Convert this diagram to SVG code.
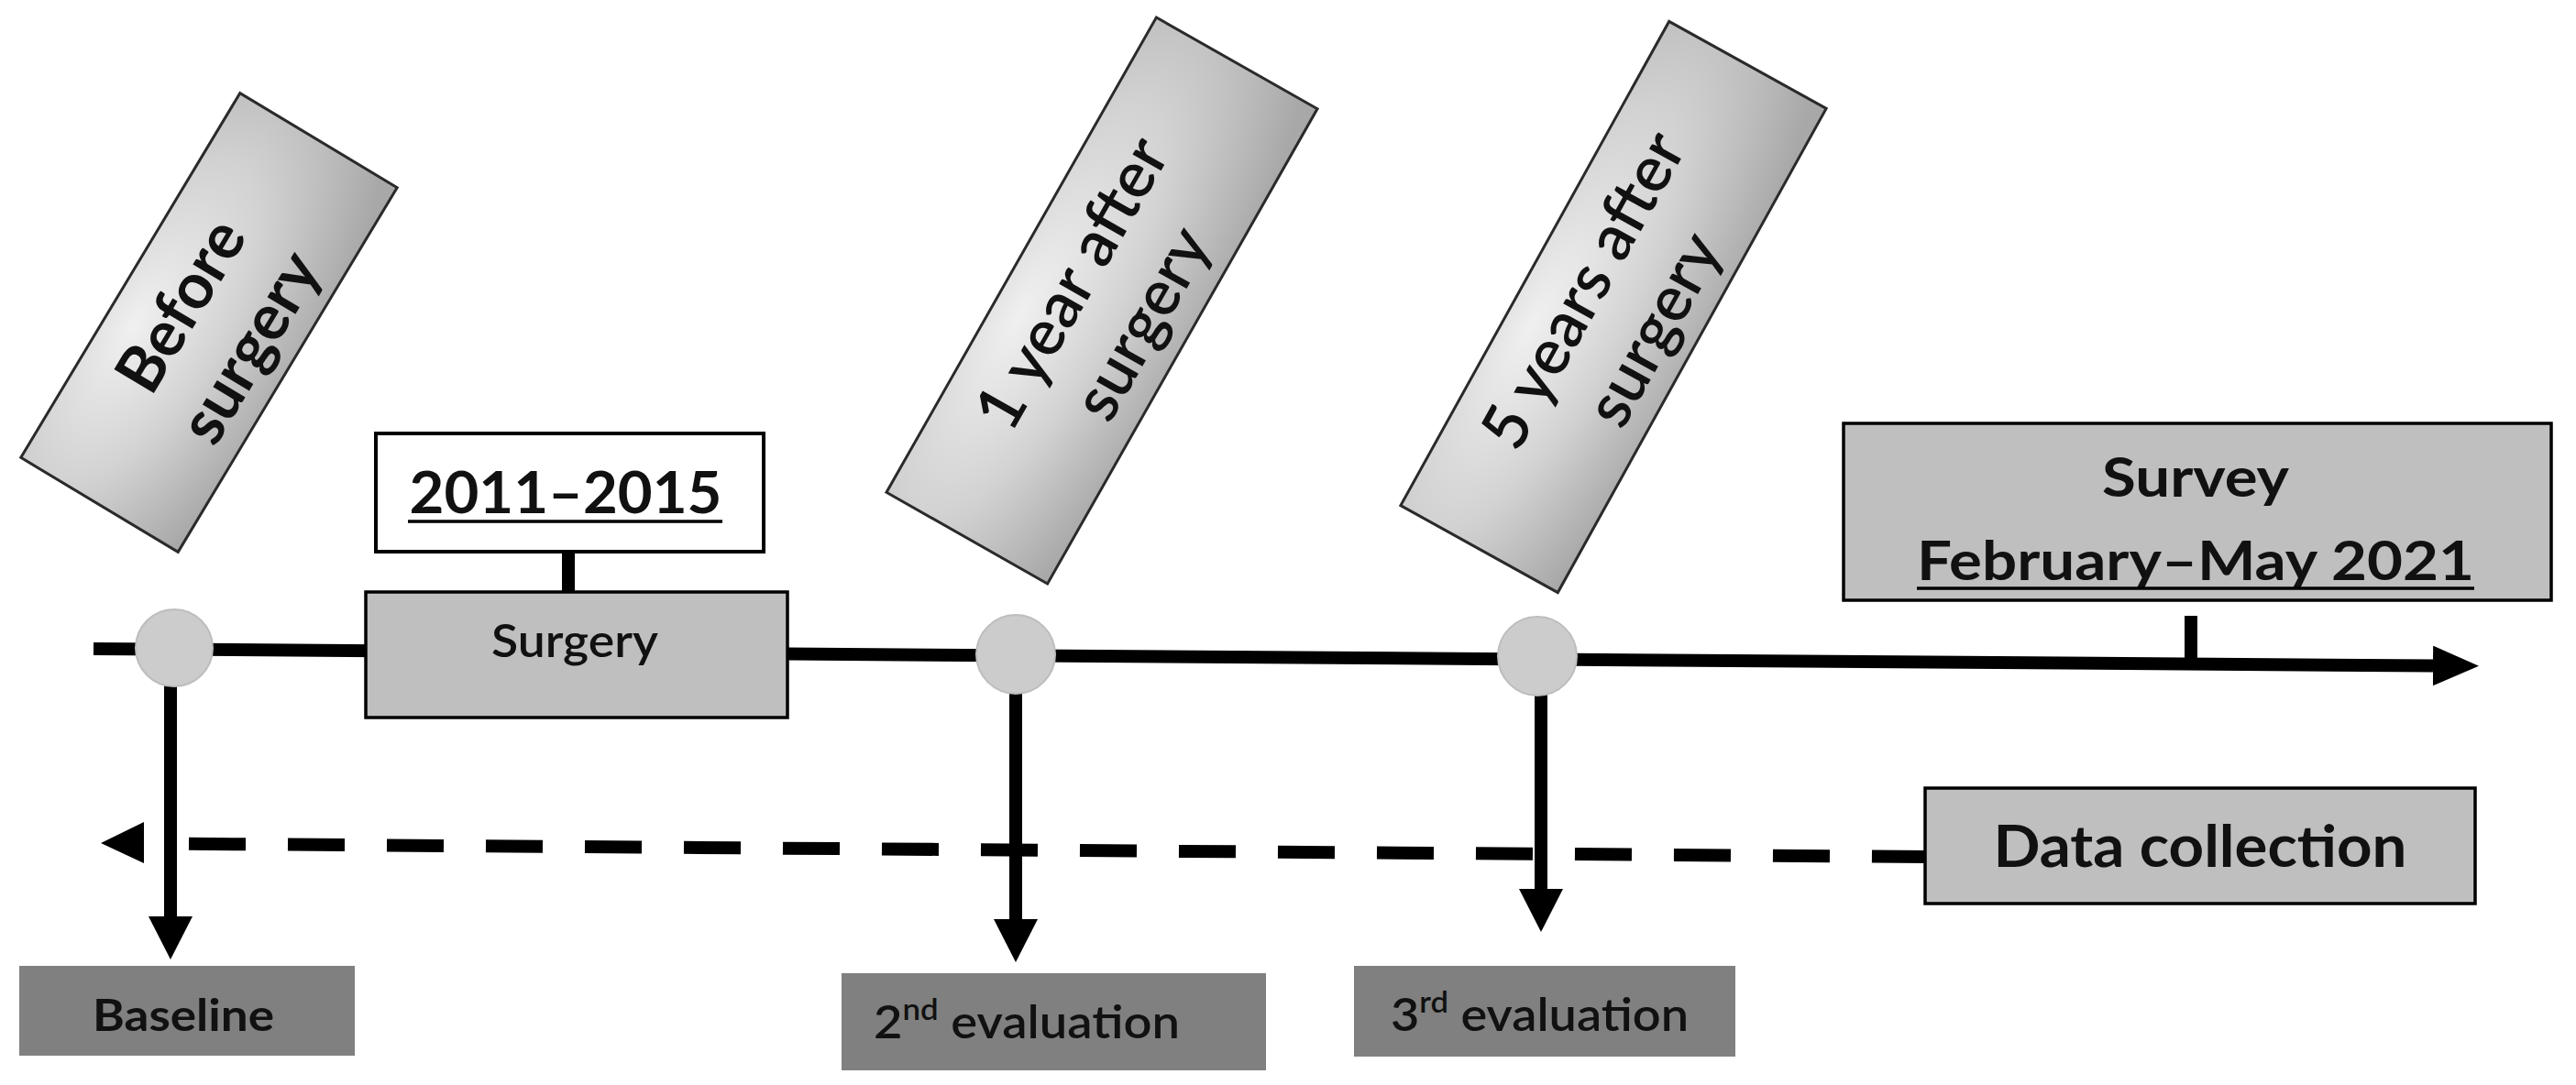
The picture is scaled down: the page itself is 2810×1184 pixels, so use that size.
<svg xmlns="http://www.w3.org/2000/svg" width="2810" height="1184" viewBox="0 0 2810 1184">
<defs>
<radialGradient id="tilt" cx="0.45" cy="0.25" r="0.85" fx="0.4" fy="0.15">
<stop offset="0" stop-color="#f0f0f0"/>
<stop offset="0.5" stop-color="#d2d2d2"/>
<stop offset="1" stop-color="#a8a8a8"/>
</radialGradient>
<marker id="arrowDown" markerUnits="userSpaceOnUse" markerWidth="48" markerHeight="48" viewBox="0 0 46 46" refX="0" refY="23" orient="auto">
<path d="M0,0 L45,23 L0,46 z" fill="#000"/>
</marker>
<marker id="arrowMain" markerUnits="userSpaceOnUse" markerWidth="50" markerHeight="44" viewBox="0 0 48 42" refX="0" refY="21" orient="auto">
<path d="M0,0 L48,21 L0,42 z" fill="#000"/>
</marker>
<style>
.t{font-family:Lato,"Open Sans","Liberation Sans",sans-serif;fill:#111}
.b{font-weight:700}
.m{font-weight:600}
.tiltbox{fill:url(#tilt);stroke:#2a2a2a;stroke-width:3}
.gbox{fill:#bfbfbf;stroke:#000;stroke-width:3.5}
.dbox{fill:#808080}
.dot{fill:#cccccc;stroke:#bdbdbd;stroke-width:2}
.ln{stroke:#000;stroke-width:14;fill:none}
</style>
</defs>
<rect width="2810" height="1184" fill="#fff"/>

<g id="connectors">
<line class="ln" x1="102" y1="708" x2="2654" y2="726.5" marker-end="url(#arrowMain)"/>
<line class="ln" x1="620" y1="600" x2="620" y2="648"/>
<line class="ln" stroke-width="13" x1="2390" y1="672" x2="2390" y2="725"/>
<line class="ln" x1="186" y1="707" x2="186" y2="1000" marker-end="url(#arrowDown)"/>
<line class="ln" x1="1108" y1="714" x2="1108" y2="1003" marker-end="url(#arrowDown)"/>
<line class="ln" x1="1681" y1="714" x2="1681" y2="970" marker-end="url(#arrowDown)"/>
<line class="ln" stroke-width="16" stroke-dasharray="62 46" x1="206" y1="920.8" x2="2104" y2="935"/>
<polygon points="110,920 157,897 157,942" fill="#000"/>
</g>

<g id="before-surgery" transform="translate(228,352) rotate(-59)">
<rect class="tiltbox" x="-232" y="-100" width="464" height="200"/>
<text class="t b" x="0" y="-12" font-size="70" text-anchor="middle" textLength="205" lengthAdjust="spacingAndGlyphs">Before</text>
<text class="t b" x="0" y="76" font-size="70" text-anchor="middle" textLength="229" lengthAdjust="spacingAndGlyphs">surgery</text>
</g>

<g id="one-year" transform="translate(1202,328) rotate(-60.4)">
<rect class="tiltbox" x="-298" y="-101" width="596" height="202"/>
<text class="t m" x="0" y="-14" font-size="70" text-anchor="middle" textLength="353" lengthAdjust="spacingAndGlyphs">1 year after</text>
<text class="t m" x="0" y="74" font-size="70" text-anchor="middle" textLength="228" lengthAdjust="spacingAndGlyphs">surgery</text>
</g>

<g id="five-years" transform="translate(1760,335) rotate(-61)">
<rect class="tiltbox" x="-302" y="-98" width="604" height="196"/>
<text class="t m" x="0" y="-14" font-size="70" text-anchor="middle" textLength="382" lengthAdjust="spacingAndGlyphs">5 years after</text>
<text class="t m" x="0" y="74" font-size="70" text-anchor="middle" textLength="228" lengthAdjust="spacingAndGlyphs">surgery</text>
</g>

<g id="period">
<rect x="410" y="473" width="423" height="129" fill="#fff" stroke="#000" stroke-width="4"/>
<text class="t b" x="617" y="560" font-size="64" text-anchor="middle" textLength="341" lengthAdjust="spacingAndGlyphs">2011–2015</text>
<line x1="445" y1="569" x2="788" y2="569" stroke="#000" stroke-width="3.5"/>
</g>

<g id="surgery">
<rect class="gbox" x="399" y="646" width="460" height="137"/>
<text class="t m" x="627" y="717" font-size="49" text-anchor="middle" textLength="182" lengthAdjust="spacingAndGlyphs">Surgery</text>
</g>

<g id="survey">
<rect class="gbox" x="2011" y="462" width="772" height="193"/>
<text class="t b" x="2395" y="542" font-size="60" text-anchor="middle" textLength="204" lengthAdjust="spacingAndGlyphs">Survey</text>
<text class="t b" x="2395" y="633" font-size="60" text-anchor="middle" textLength="608" lengthAdjust="spacingAndGlyphs">February–May 2021</text>
<line x1="2091" y1="642" x2="2699" y2="642" stroke="#000" stroke-width="3.5"/>
</g>

<g id="data-collection">
<rect class="gbox" x="2100" y="860" width="600" height="126"/>
<text class="t b" x="2400" y="946" font-size="64" text-anchor="middle" textLength="451" lengthAdjust="spacingAndGlyphs">Data collection</text>
</g>

<g id="t0"><circle class="dot" cx="190" cy="707" r="42"/></g>
<g id="t1"><circle class="dot" cx="1108" cy="714" r="43"/></g>
<g id="t2"><circle class="dot" cx="1677" cy="716" r="43"/></g>

<g id="baseline">
<rect class="dbox" x="21" y="1054" width="366" height="98"/>
<text class="t b" x="200" y="1125" font-size="48" text-anchor="middle" textLength="198" lengthAdjust="spacingAndGlyphs">Baseline</text>
</g>

<g id="eval2">
<rect class="dbox" x="918" y="1062" width="463" height="106"/>
<text class="t m" x="953" y="1133" font-size="50" textLength="334" lengthAdjust="spacingAndGlyphs">2<tspan font-size="32" dy="-20">nd</tspan><tspan dy="20"> evaluation</tspan></text>
</g>

<g id="eval3">
<rect class="dbox" x="1477" y="1054" width="416" height="99"/>
<text class="t m" x="1517" y="1125" font-size="50" textLength="325" lengthAdjust="spacingAndGlyphs">3<tspan font-size="32" dy="-20">rd</tspan><tspan dy="20"> evaluation</tspan></text>
</g>
</svg>
